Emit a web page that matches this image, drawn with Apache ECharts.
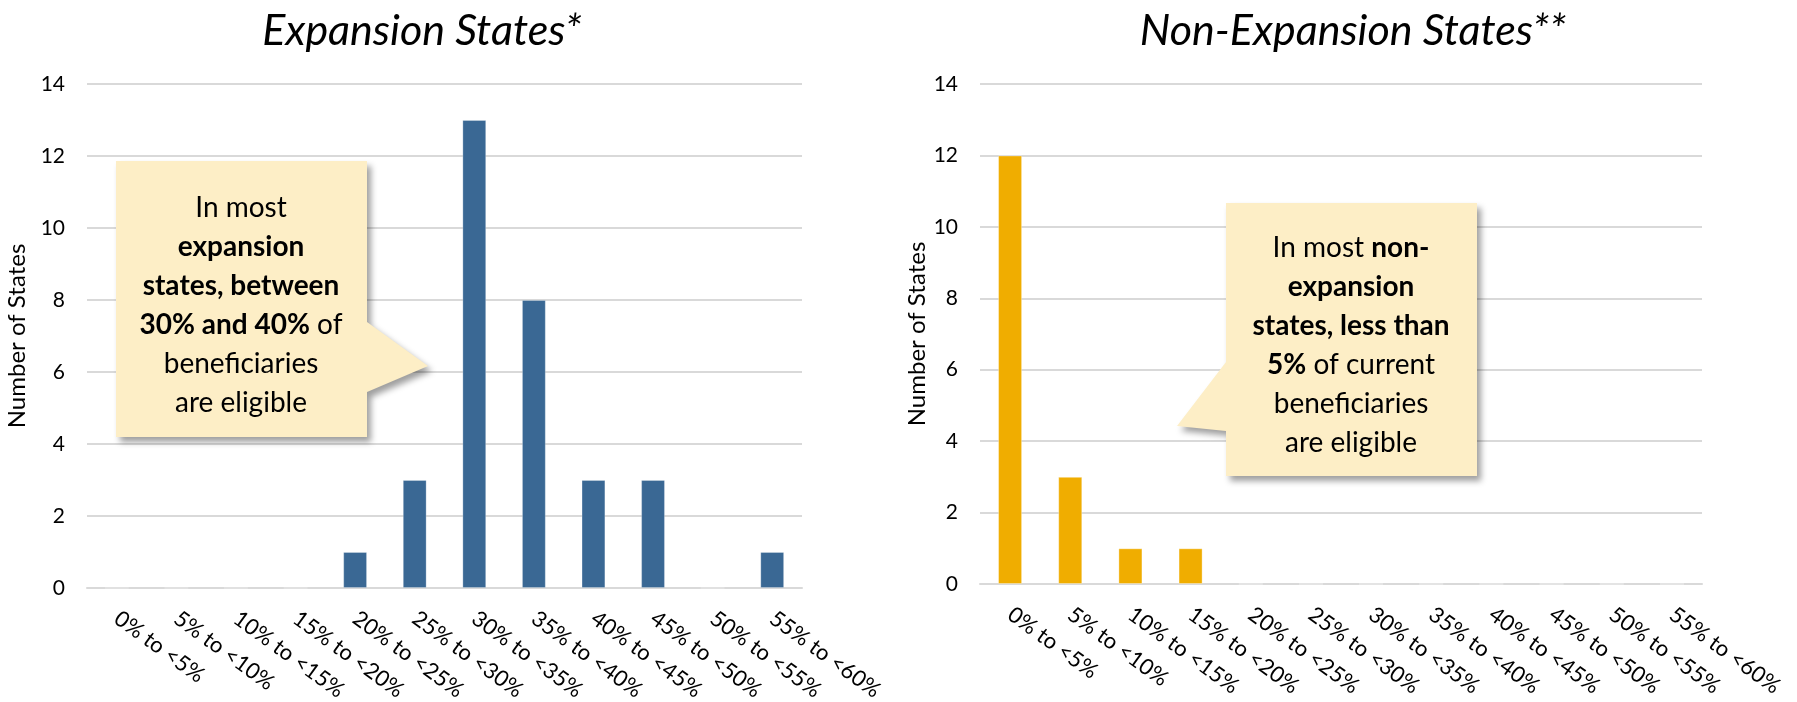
<!DOCTYPE html>
<html>
<head>
<meta charset="utf-8">
<title>Eligible beneficiaries by state group</title>
<script src="https://cdn.jsdelivr.net/npm/echarts@6/dist/echarts.min.js"></script>
<style>
  html, body { margin: 0; padding: 0; background: #fff; }
  #chart { width: 1797px; height: 702px; }
</style>
</head>
<body>
<div id="chart"></div>
<script>
// Share-of-beneficiaries buckets shown on both x axes
const categories = ['0% to <5%', '5% to <10%', '10% to <15%', '15% to <20%', '20% to <25%', '25% to <30%',
                    '30% to <35%', '35% to <40%', '40% to <45%', '45% to <50%', '50% to <55%', '55% to <60%'];
// Number of states falling in each bucket
const expansionStates    = [0, 0, 0, 0, 1, 3, 13, 8, 3, 3, 0, 1];
const nonExpansionStates = [12, 3, 1, 1, 0, 0, 0, 0, 0, 0, 0, 0];
const panelTitles = ['Expansion States*', 'Non-Expansion States**'];
const yAxisTitle = 'Number of States';

const FONT = 'Lato, "Open Sans", "Noto Sans", sans-serif';
const GRID_GRAY = '#d9d9d9';

const chart = echarts.init(document.getElementById('chart'), null, { renderer: 'canvas' });

function xAxisFor(gridIndex) {
  return {
    type: 'category', gridIndex, data: categories,
    axisLine: { show: true, lineStyle: { color: GRID_GRAY, width: 2 } },
    axisTick: { show: false },
    axisLabel: { rotate: -36, margin: 28, interval: 0, color: '#000', fontFamily: FONT, fontSize: 22 }
  };
}
function yAxisFor(gridIndex, gap) {
  return {
    type: 'value', gridIndex, min: 0, max: 14, interval: 2,
    name: yAxisTitle, nameLocation: 'middle', nameGap: gap,
    nameTextStyle: { color: '#000', fontFamily: FONT, fontSize: 24 },
    axisLine: { show: false }, axisTick: { show: false },
    axisLabel: { margin: 22, color: '#000', fontFamily: FONT, fontSize: 21 },
    splitLine: { lineStyle: { color: GRID_GRAY, width: 2 } }
  };
}

const calloutStyle = {
  fill: '#fdeec6',
  shadowBlur: 6, shadowOffsetX: 4, shadowOffsetY: 5, shadowColor: 'rgba(0,0,0,0.38)'
};
const richText = {
  n: { fontFamily: FONT, fontSize: 28, fontWeight: 'normal', lineHeight: 39, fill: '#000' },
  b: { fontFamily: FONT, fontSize: 28, fontWeight: 'bold', lineHeight: 39, fill: '#000' }
};
const titleStyle = { fontFamily: FONT, fontSize: 43, fontStyle: 'italic', fontWeight: 'normal', color: '#000' };

chart.setOption({
  animation: false,
  title: [
    { text: panelTitles[0], left: 417, top: 5, textAlign: 'center', textStyle: titleStyle },
    { text: panelTitles[1], left: 1348, top: 5, textAlign: 'center', textStyle: titleStyle }
  ],
  grid: [
    { left: 87, right: 995, top: 84, bottom: 114, containLabel: false, outerBoundsMode: 'none' },
    { left: 980, right: 95, top: 84, bottom: 118, containLabel: false, outerBoundsMode: 'none' }
  ],
  xAxis: [xAxisFor(0), xAxisFor(1)],
  yAxis: [yAxisFor(0, 58), yAxisFor(1, 48)],
  series: [
    { type: 'bar', xAxisIndex: 0, yAxisIndex: 0, data: expansionStates, barWidth: '40%',
      itemStyle: { color: '#3a6894', borderColor: 'rgba(255,255,255,0.25)', borderWidth: 1 } },
    { type: 'bar', xAxisIndex: 1, yAxisIndex: 1, data: nonExpansionStates, barWidth: '40%',
      itemStyle: { color: '#f0ad00', borderColor: 'rgba(255,255,255,0.35)', borderWidth: 1 } }
  ],
  graphic: [
    // Callout for the expansion panel, pointer toward the 30–35% bar
    { type: 'polygon', z: 10,
      shape: { points: [[116, 161], [367, 161], [367, 322], [428, 366], [367, 392], [367, 437], [116, 437]] },
      style: calloutStyle },
    { type: 'text', z: 11,
      style: {
        x: 241, y: 305, align: 'center', verticalAlign: 'middle',
        text: '{n|In most}\n{b|expansion}\n{b|states, between}\n{b|30% and 40%}{n| of}\n{n|beneficiaries}\n{n|are eligible}',
        rich: richText
      } },
    // Callout for the non-expansion panel, pointer toward the 0–5% bar
    { type: 'polygon', z: 10,
      shape: { points: [[1226, 203], [1477, 203], [1477, 476], [1226, 476], [1226, 431], [1177, 426], [1226, 362]] },
      style: calloutStyle },
    { type: 'text', z: 11,
      style: {
        x: 1351, y: 345, align: 'center', verticalAlign: 'middle',
        text: '{n|In most }{b|non-}\n{b|expansion}\n{b|states, less than}\n{b|5%}{n| of current}\n{n|beneficiaries}\n{n|are eligible}',
        rich: richText
      } }
  ]
});
</script>
</body>
</html>
